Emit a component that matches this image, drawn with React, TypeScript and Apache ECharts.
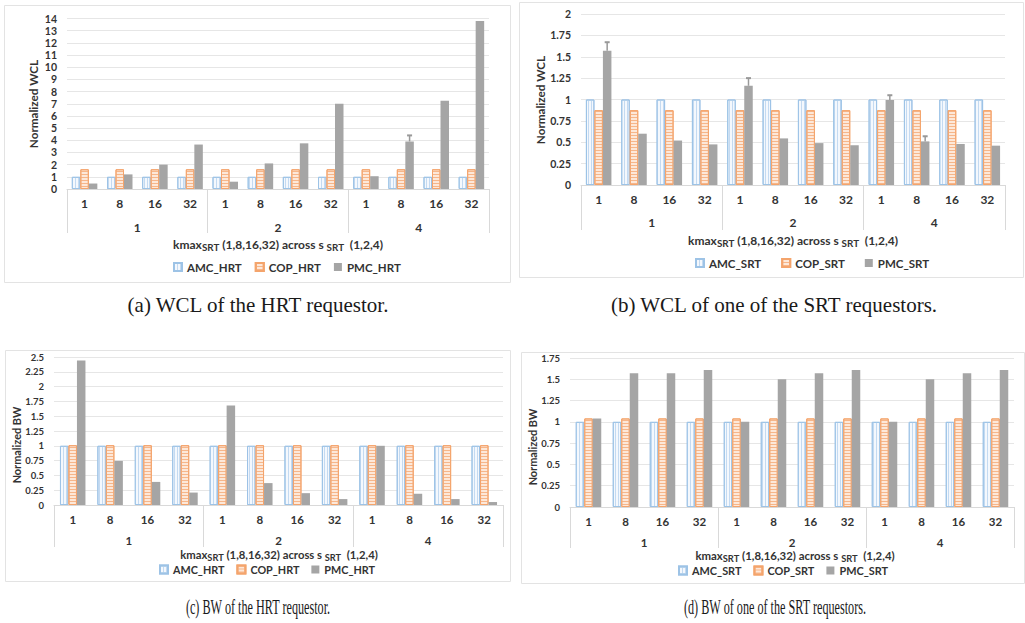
import { useEffect, useRef } from 'react';
import * as echarts from 'echarts';

// ---------- data ----------
const kmaxLabels = ['1', '8', '16', '32', '1', '8', '16', '32', '1', '8', '16', '32'];
const groupLabels = ['1', '2', '4'];
const hrtNames = ['AMC_HRT', 'COP_HRT', 'PMC_HRT'];
const srtNames = ['AMC_SRT', 'COP_SRT', 'PMC_SRT'];

// (a) WCL of the HRT requestor
const wclHrtAmc = [1, 1, 1, 1, 1, 1, 1, 1, 1, 1, 1, 1];
const wclHrtCop = [1.62, 1.62, 1.62, 1.62, 1.62, 1.62, 1.62, 1.62, 1.62, 1.62, 1.62, 1.62];
const wclHrtPmc = [0.45, 1.2, 2.0, 3.65, 0.6, 2.1, 3.75, 7.0, 1.05, 3.9, 7.25, 13.8];
const wclHrtErrIdx = [9];
const wclHrtErrHigh = [4.4];

// (b) WCL of one of the SRT requestors
const wclSrtAmc = [1, 1, 1, 1, 1, 1, 1, 1, 1, 1, 1, 1];
const wclSrtCop = [0.875, 0.875, 0.875, 0.875, 0.875, 0.875, 0.875, 0.875, 0.875, 0.875, 0.875, 0.875];
const wclSrtPmc = [1.57, 0.6, 0.52, 0.475, 1.16, 0.545, 0.49, 0.465, 0.995, 0.51, 0.48, 0.46];
const wclSrtErrIdx = [0, 4, 8, 9];
const wclSrtErrHigh = [1.67, 1.25, 1.05, 0.57];

// (c) BW of the HRT requestor
const bwHrtAmc = [1, 1, 1, 1, 1, 1, 1, 1, 1, 1, 1, 1];
const bwHrtCop = [1.01, 1.01, 1.01, 1.01, 1.01, 1.01, 1.01, 1.01, 1.01, 1.01, 1.01, 1.01];
const bwHrtPmc = [2.44, 0.745, 0.39, 0.21, 1.68, 0.37, 0.2, 0.1, 1.0, 0.19, 0.1, 0.05];

// (d) BW of one of the SRT requestors
const bwSrtAmc = [1, 1, 1, 1, 1, 1, 1, 1, 1, 1, 1, 1];
const bwSrtCop = [1.04, 1.04, 1.04, 1.04, 1.04, 1.04, 1.04, 1.04, 1.04, 1.04, 1.04, 1.04];
const bwSrtPmc = [1.04, 1.57, 1.57, 1.61, 1.0, 1.5, 1.57, 1.61, 1.0, 1.5, 1.57, 1.61];

const captions = [
  '(a) WCL of the HRT requestor.',
  '(b) WCL of one of the SRT requestors.',
  '(c) BW of the HRT requestor.',
  '(d) BW of one of the SRT requestors.',
];
const yNames = ['Normalized WCL', 'Normalized WCL', 'Normalized BW', 'Normalized BW'];

// ---------- styles ----------
const FONT = 'Lato';
const TXT = '#333333';
const BAR_W = 8.5;

const amcStyle = {
  color: '#f4f8fd',
  borderColor: '#9dc3e6',
  borderWidth: 1,
  decal: { symbol: 'rect', symbolSize: 1, color: '#c4daf1', dashArrayX: [1, 2], dashArrayY: [1, 0], rotation: 0 },
};
const copStyle = {
  color: '#fde8d9',
  borderColor: '#f4a46c',
  borderWidth: 1,
  decal: { symbol: 'rect', symbolSize: 1, color: '#f6b68a', dashArrayX: [1, 0], dashArrayY: [1, 2], rotation: 0 },
};
const pmcStyle = { color: '#a5a5a5' };

type Panel = {
  grid: { left: number; top: number; width: number; height: number };
  yMax: number;
  yInt: number;
  yFont: number;
  xFont: number;
  sepLen: number;
  groupMargin: number;
  names: string[];
  amc: number[];
  cop: number[];
  pmc: number[];
  errIdx: number[];
  errHigh: number[];
  legend: { left: number; top: number; gap: number; font: number };
  title: { x: number; y: number; font: number };
  yName: { x: number; y: number; font: number };
  border: [number, number, number, number];
  caption: { x: number; y: number; scaleX: number };
};

const panels: Panel[] = [
  {
    grid: { left: 67, top: 18.5, width: 422, height: 170.5 },
    yMax: 14, yInt: 1, yFont: 10.5, xFont: 12, sepLen: 44, groupMargin: 32,
    names: hrtNames, amc: wclHrtAmc, cop: wclHrtCop, pmc: wclHrtPmc,
    errIdx: wclHrtErrIdx, errHigh: wclHrtErrHigh,
    legend: { left: 173, top: 261, gap: 13, font: 11.5 },
    title: { x: 278, y: 244, font: 12 },
    yName: { x: 33, y: 104, font: 11.7 },
    border: [4, 5, 506, 277],
    caption: { x: 258, y: 305, scaleX: 1 },
  },
  {
    grid: { left: 581, top: 14, width: 424, height: 171 },
    yMax: 2, yInt: 0.25, yFont: 10.5, xFont: 12, sepLen: 45, groupMargin: 31,
    names: srtNames, amc: wclSrtAmc, cop: wclSrtCop, pmc: wclSrtPmc,
    errIdx: wclSrtErrIdx, errHigh: wclSrtErrHigh,
    legend: { left: 695, top: 257, gap: 20, font: 11.5 },
    title: { x: 793, y: 240, font: 12 },
    yName: { x: 540, y: 100, font: 11.7 },
    border: [519, 2, 504, 275],
    caption: { x: 774, y: 305, scaleX: 1 },
  },
  {
    grid: { left: 54, top: 357, width: 449, height: 148 },
    yMax: 2.5, yInt: 0.25, yFont: 9.5, xFont: 11.5, sepLen: 42, groupMargin: 29,
    names: hrtNames, amc: bwHrtAmc, cop: bwHrtCop, pmc: bwHrtPmc,
    errIdx: [], errHigh: [],
    legend: { left: 159, top: 564, gap: 12, font: 10.8 },
    title: { x: 279, y: 554, font: 11.3 },
    yName: { x: 16, y: 445, font: 10.9 },
    border: [5, 350, 505, 231],
    caption: { x: 258, y: 607, scaleX: 0.58 },
  },
  {
    grid: { left: 570, top: 358, width: 444, height: 149 },
    yMax: 1.75, yInt: 0.25, yFont: 9.5, xFont: 11.5, sepLen: 41, groupMargin: 29,
    names: srtNames, amc: bwSrtAmc, cop: bwSrtCop, pmc: bwSrtPmc,
    errIdx: [], errHigh: [],
    legend: { left: 678, top: 565, gap: 12, font: 10.9 },
    title: { x: 795, y: 555, font: 11.4 },
    yName: { x: 532, y: 447, font: 10.9 },
    border: [521, 352, 503, 231],
    caption: { x: 775, y: 607, scaleX: 0.58 },
  },
];

function buildOption() {
  const grid: any[] = [];
  const xAxis: any[] = [];
  const yAxis: any[] = [];
  const series: any[] = [];
  const legend: any[] = [];
  const graphic: any[] = [];

  panels.forEach((p, i) => {
    grid.push({ ...p.grid });
    const kIdx = xAxis.length;
    xAxis.push({
      type: 'category',
      gridIndex: i,
      position: 'bottom',
      data: kmaxLabels,
      axisLine: { show: true, lineStyle: { color: '#d9d9d9', width: 1 } },
      axisTick: { show: false },
      axisLabel: { margin: 8, fontFamily: FONT, fontWeight: 'bold', fontSize: p.xFont, color: TXT, interval: 0 },
    });
    xAxis.push({
      type: 'category',
      gridIndex: i,
      position: 'bottom',
      data: groupLabels,
      axisLine: { show: false },
      axisTick: { show: true, length: p.sepLen, interval: 0, lineStyle: { color: '#d9d9d9', width: 1 } },
      axisLabel: { margin: p.groupMargin, fontFamily: FONT, fontWeight: 'bold', fontSize: p.xFont, color: TXT, interval: 0 },
      splitLine: { show: false },
    });
    yAxis.push({
      type: 'value',
      gridIndex: i,
      min: 0,
      max: p.yMax,
      interval: p.yInt,
      axisLine: { show: false },
      axisTick: { show: false },
      splitLine: { show: true, lineStyle: { color: '#e6e6e6', width: 1 } },
      axisLabel: { margin: 10, fontFamily: FONT, fontWeight: 'bold', fontSize: p.yFont, color: TXT },
    });
    const base = { type: 'bar', xAxisIndex: kIdx, yAxisIndex: i, barWidth: BAR_W, barGap: '0%' };
    series.push({ ...base, name: p.names[0], data: p.amc, itemStyle: amcStyle });
    series.push({ ...base, name: p.names[1], data: p.cop, itemStyle: copStyle });
    series.push({ ...base, name: p.names[2], data: p.pmc, itemStyle: pmcStyle });
    if (p.errIdx.length) {
      series.push({
        type: 'custom',
        name: 'err' + i,
        xAxisIndex: kIdx,
        yAxisIndex: i,
        encode: { x: 0, y: [1, 2] },
        data: p.errIdx.map((c, k) => [c, p.pmc[c], p.errHigh[k]]),
        renderItem: (_params: any, api: any) => {
          const c = api.value(0);
          const lo = api.coord([c, api.value(1)]);
          const hi = api.coord([c, api.value(2)]);
          const x = lo[0] + BAR_W;
          return {
            type: 'group',
            children: [
              { type: 'line', shape: { x1: x, y1: lo[1], x2: x, y2: hi[1] }, style: { stroke: '#999999', lineWidth: 1.5 } },
              { type: 'line', shape: { x1: x - 2.5, y1: hi[1], x2: x + 2.5, y2: hi[1] }, style: { stroke: '#999999', lineWidth: 2 } },
            ],
          };
        },
      });
    }
    legend.push({
      data: p.names,
      left: p.legend.left,
      top: p.legend.top,
      orient: 'horizontal',
      icon: 'rect',
      itemWidth: 8,
      itemHeight: 8,
      itemGap: p.legend.gap,
      padding: 0,
      selectedMode: false,
      textStyle: { fontFamily: FONT, fontWeight: 'bold', fontSize: p.legend.font, color: TXT, lineHeight: 11 },
    });

    const [bx, by, bw, bh] = p.border;
    graphic.push({
      type: 'rect',
      silent: true,
      shape: { x: bx + 0.5, y: by + 0.5, width: bw, height: bh },
      style: { fill: 'none', stroke: '#e3e3e3', lineWidth: 1 },
      z: -10,
    });
    const f = p.title.font;
    graphic.push({
      type: 'text',
      x: p.title.x,
      y: p.title.y,
      style: {
        text: '{m|kmax}{s|SRT}{m| (1,8,16,32) across s }{s|SRT}{m|  (1,2,4)}',
        align: 'center',
        verticalAlign: 'middle',
        rich: {
          m: { fontFamily: FONT, fontWeight: 'bold', fontSize: f, fill: TXT },
          s: { fontFamily: FONT, fontWeight: 'bold', fontSize: f * 0.82, fill: TXT, padding: [6, 0, 0, 0] },
        },
      },
    });
    graphic.push({
      type: 'text',
      x: p.yName.x,
      y: p.yName.y,
      rotation: Math.PI / 2,
      style: {
        text: yNames[i],
        align: 'center',
        verticalAlign: 'middle',
        fontFamily: FONT,
        fontWeight: 'bold',
        fontSize: p.yName.font,
        fill: TXT,
      },
    });
    graphic.push({
      type: 'text',
      x: p.caption.x,
      y: p.caption.y,
      scaleX: p.caption.scaleX,
      style: {
        text: captions[i],
        align: 'center',
        verticalAlign: 'middle',
        fontFamily: 'Liberation Serif',
        fontSize: 21,
        fill: '#1a1a1a',
      },
    });
  });

  return {
    animation: false,
    backgroundColor: '#ffffff',
    grid,
    xAxis,
    yAxis,
    series,
    legend,
    graphic,
  };
}

export default function App() {
  const ref = useRef<HTMLDivElement | null>(null);
  useEffect(() => {
    if (!ref.current) return;
    const chart = echarts.init(ref.current, undefined, { renderer: 'svg' });
    chart.setOption(buildOption() as any);
    return () => chart.dispose();
  }, []);
  return (
    <div
      ref={ref}
      style={{ position: 'absolute', left: 0, top: 0, width: 1025, height: 623, background: '#fff' }}
    />
  );
}
